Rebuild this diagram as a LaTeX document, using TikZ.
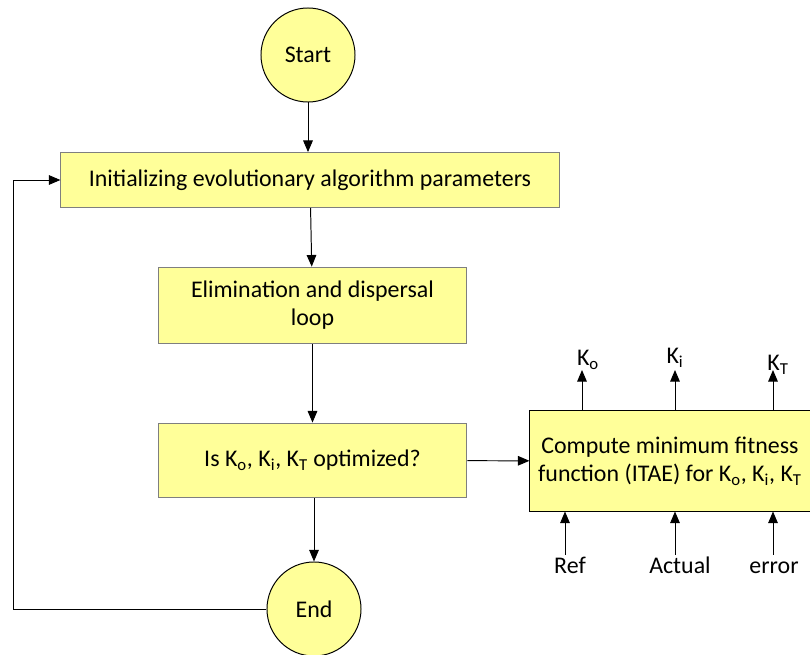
\documentclass[tikz,border=0pt]{standalone}
\usepackage{fontspec}
\setmainfont{Carlito}
\usepackage{xcolor}
\usetikzlibrary{arrows.meta,positioning}
\definecolor{boxyellow}{HTML}{FFFF99}
\definecolor{boxgray}{HTML}{7F7F7F}

\begin{document}
\begin{tikzpicture}[x=0.025cm, y=-0.025cm, font=\fontsize{17}{20}\selectfont, line width=0.7pt]
  \tikzset{stepbox/.style={draw=boxgray, fill=boxyellow, align=center, inner sep=2pt},
           term/.style={circle, draw=black, fill=boxyellow, minimum size=2.35cm, inner sep=0pt},
           flow/.style={-{Triangle[length=2.9mm, width=2.4mm]}, black},
           tag/.style={anchor=base, inner sep=0pt}}
  \useasboundingbox (0,0) rectangle (810,655);
  \node[term] (start) at (308,55) {Start};
  \node[stepbox, minimum width=12.45cm, minimum height=1.37cm] (init) at (310,180) {Initializing evolutionary algorithm parameters};
  \node[stepbox, minimum width=7.72cm, minimum height=1.92cm] (elim) at (312.5,305.5) {Elimination and dispersal\\loop};
  \node[stepbox, minimum width=7.72cm, minimum height=1.87cm] (check) at (312.5,460.5) {Is K\textsubscript{o}, K\textsubscript{i}, K\textsubscript{T} optimized?};
  \node[term] (stop) at (314,609) {End};
  \node[stepbox, draw=black, minimum width=7cm, minimum height=2.5cm] (fit) at (670,461) {Compute minimum fitness\\function (ITAE) for K\textsubscript{o}, K\textsubscript{i}, K\textsubscript{T}};
  % outputs of the fitness block
  \node[tag] (ko) at (588,366) {K\textsubscript{o}};
  \node[tag] (ki) at (675,364) {K\textsubscript{i}};
  \node[tag] (kt) at (778,371) {K\textsubscript{T}};
  % inputs of the fitness block
  \node[tag] (ref) at (570,574) {Ref};
  \node[tag] (act) at (680,574) {Actual};
  \node[tag] (err) at (774,574) {error};
  \coordinate (back) at (13,609);
  \draw[flow] (start) -- (start |- init.north);
  \draw[flow] (init) -- (elim);
  \draw[flow] (elim) -- (check);
  \draw[flow] (check.south -| stop) -- (stop);
  \draw[flow] (check) -- (fit);
  \draw[flow] (fit.north -| 582,0) -- (582,370);
  \draw[flow] (fit.north -| 675,0) -- (675,370);
  \draw[flow] (fit.north -| 773,0) -- (773,370);
  \draw[flow] (565,555) -- (fit.south -| 565,0);
  \draw[flow] (675,555) -- (fit.south -| 675,0);
  \draw[flow] (773,555) -- (fit.south -| 773,0);
  \draw[flow] (stop) -- (back) |- (init);
\end{tikzpicture}
\end{document}
